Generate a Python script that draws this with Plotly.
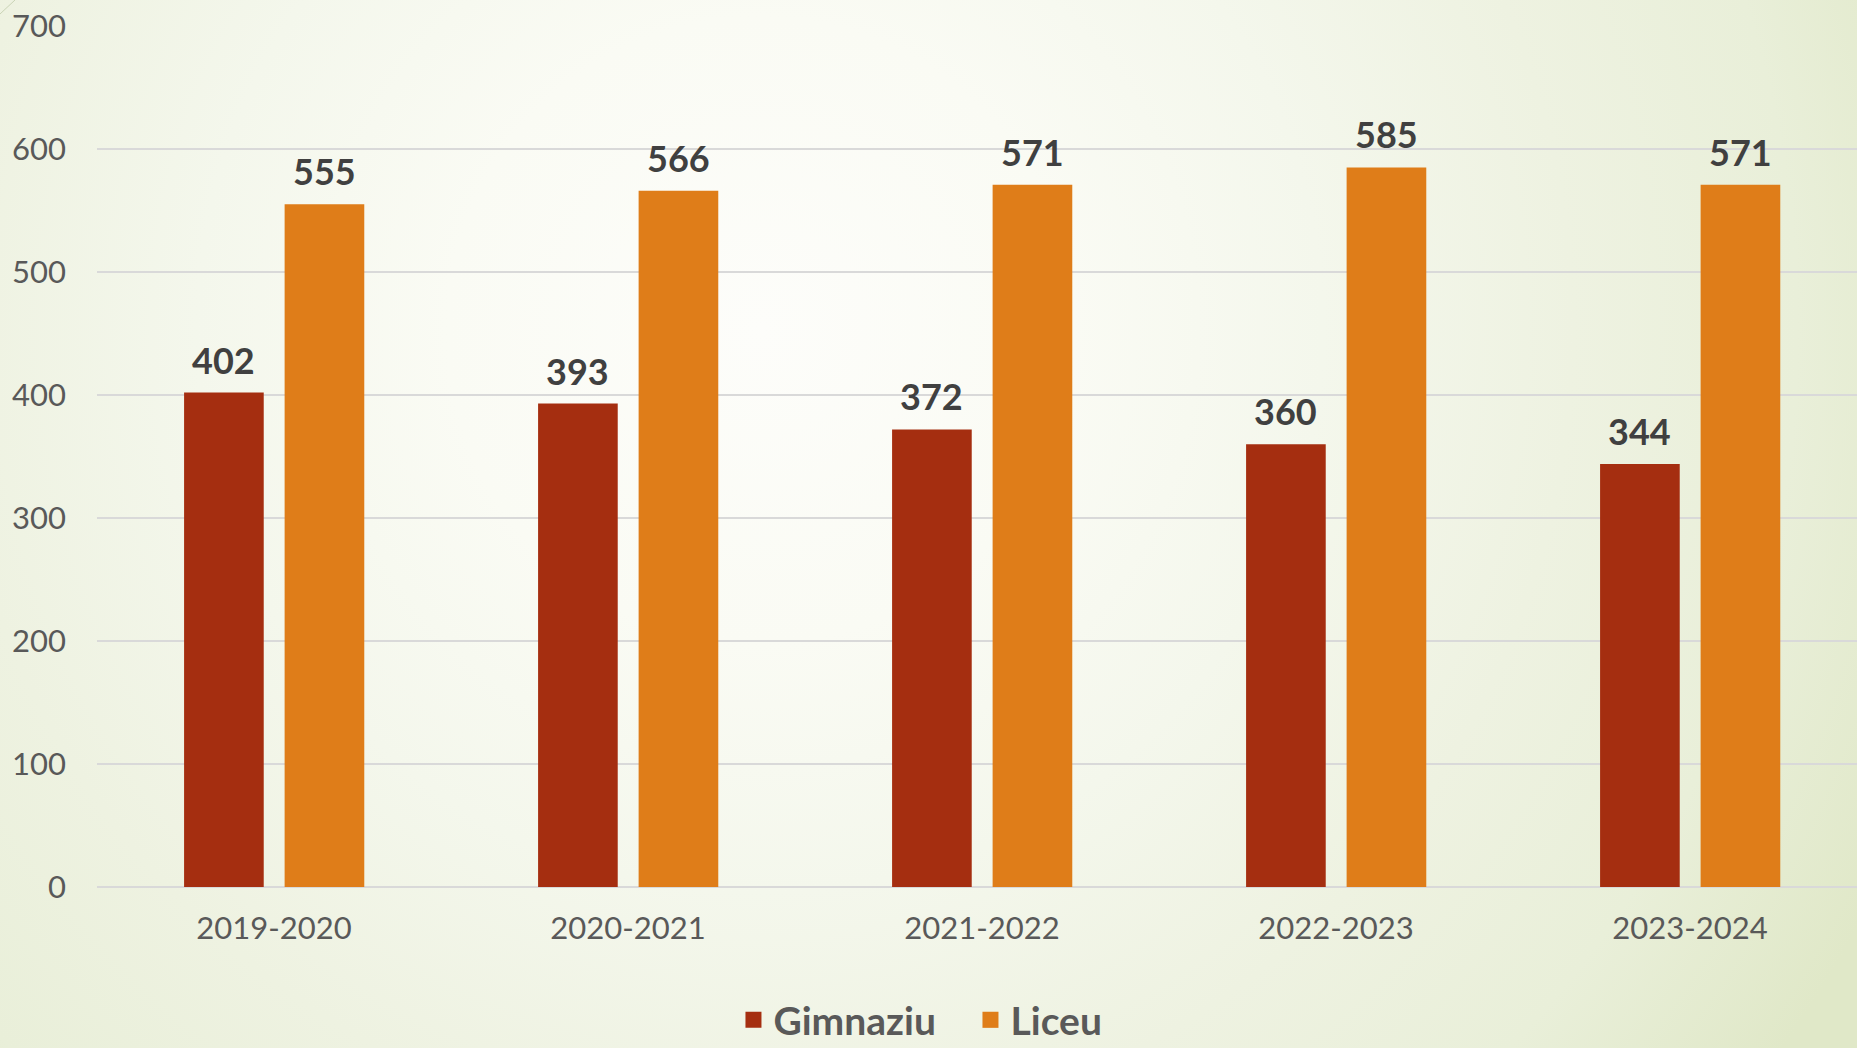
import base64
import plotly.graph_objects as go

# chart data
years = ["2019-2020", "2020-2021", "2021-2022", "2022-2023", "2023-2024"]
gimnaziu = [402, 393, 372, 360, 344]
liceu = [555, 566, 571, 585, 571]

y_ticks = [0, 100, 200, 300, 400, 500, 600, 700]

W, H = 1857, 1048
ML, MR, MT, MB = 97, 0, 26, 161
PW, PH = W - ML - MR, H - MT - MB

bar_w = 0.225
off_g = -0.254
off_l = 0.030

axis_font = dict(family="Lato, 'Open Sans', sans-serif", size=31, color="#595959")
label_font = dict(family="Lato, 'Open Sans', sans-serif", size=36, color="#404040")

# soft radial background like the slide
svg = f"""<svg xmlns='http://www.w3.org/2000/svg' width='{W}' height='{H}'>
<defs><radialGradient id='g' gradientUnits='userSpaceOnUse' cx='760' cy='330' r='1250'>
<stop offset='0' stop-color='#fdfdfa'/>
<stop offset='0.25' stop-color='#fafbf4'/>
<stop offset='0.45' stop-color='#f4f7ec'/>
<stop offset='0.65' stop-color='#eef2e1'/>
<stop offset='0.83' stop-color='#e9efd9'/>
<stop offset='1' stop-color='#e0e8c8'/>
</radialGradient></defs>
<rect width='{W}' height='{H}' fill='url(#g)'/>
<line x1='0' y1='14' x2='15' y2='0' stroke='#c9d3b5' stroke-width='1'/>
</svg>"""
bg_src = "data:image/svg+xml;base64," + base64.b64encode(svg.encode()).decode()

fig = go.Figure()

fig.add_trace(go.Bar(
    x=years, y=gimnaziu, name="Gimnaziu",
    marker=dict(color="#a52e10", line=dict(width=0)),
    width=bar_w, offset=off_g, showlegend=False,
))
fig.add_trace(go.Bar(
    x=years, y=liceu, name="Liceu",
    marker=dict(color="#df7d19", line=dict(width=0)),
    width=bar_w, offset=off_l, showlegend=False,
))

# legend entries with bigger squares
for name, col in [("Gimnaziu", "#a52e10"), ("Liceu", "#df7d19")]:
    fig.add_trace(go.Scatter(
        x=[None], y=[None], mode="markers", name=name,
        marker=dict(symbol="square", size=21, color=col),
    ))

# value labels above bars
for i, (g, l) in enumerate(zip(gimnaziu, liceu)):
    for val, off in [(g, off_g), (l, off_l)]:
        fig.add_annotation(
            x=i + off + bar_w / 2, y=val, text=f"<b>{val}</b>",
            showarrow=False, yanchor="bottom", yshift=9,
            font=label_font,
        )

fig.update_layout(
    width=W, height=H,
    margin=dict(l=ML, r=MR, t=MT, b=MB, autoexpand=False),
    paper_bgcolor="#f4f7ec",
    plot_bgcolor="rgba(0,0,0,0)",
    barmode="group",
    showlegend=True,
    legend=dict(
        orientation="h", xref="container", x=0.5226, xanchor="center",
        yref="container", y=1 - 1020 / H, yanchor="middle",
        font=dict(family="Lato, 'Open Sans', sans-serif", size=39,
                  color="#595959", weight="bold"),
        bgcolor="rgba(0,0,0,0)", itemwidth=30, entrywidth=192,
    ),
    images=[dict(
        source=bg_src, xref="paper", yref="paper",
        x=-ML / PW, y=1 + MT / PH, sizex=W / PW, sizey=H / PH,
        xanchor="left", yanchor="top", sizing="stretch", layer="below",
    )],
)

fig.update_xaxes(
    type="category", range=[-0.5, -0.5 + PW / 354],
    showgrid=False, showline=False, zeroline=False,
    tickfont=axis_font, ticks="", ticklabelstandoff=20,
)
fig.update_yaxes(
    range=[0, 700], tickvals=y_ticks,
    showgrid=True, gridcolor="#d9d9d9", gridwidth=2,
    zeroline=True, zerolinecolor="#d9d9d9", zerolinewidth=2,
    showline=False, tickfont=axis_font, ticks="", ticklabelstandoff=30,
)

fig.write_html(
    "out.html",
    config={"displayModeBar": False},
    post_script="document.body.style.margin='0';document.body.style.overflow='hidden';",
)
